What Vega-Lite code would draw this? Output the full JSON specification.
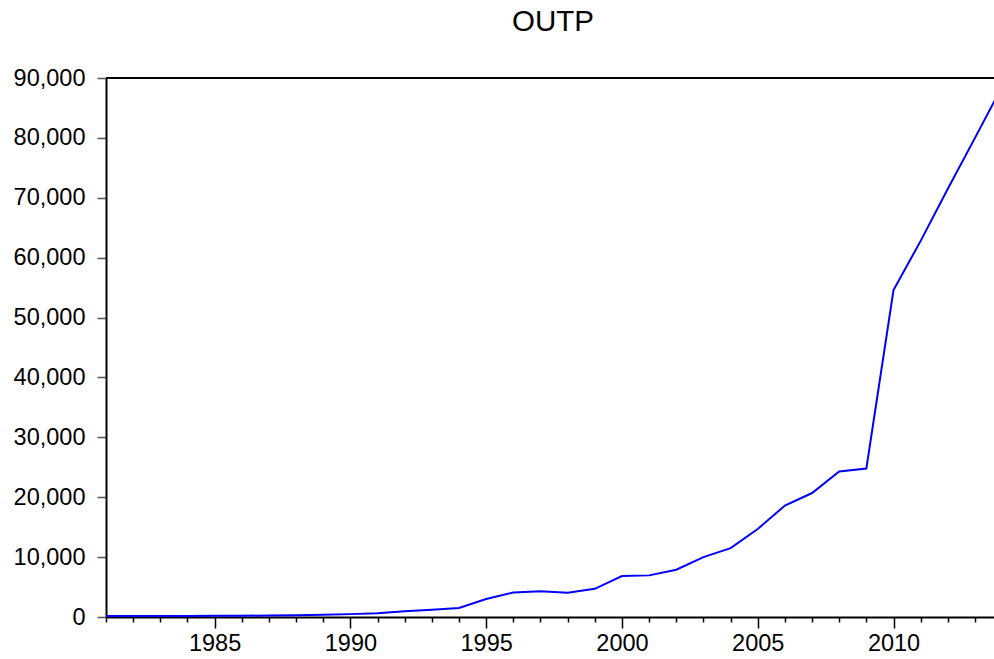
{
  "$schema": "https://vega.github.io/schema/vega-lite/v6.json",
  "autosize": {"type": "none"},
  "width": 888,
  "height": 539,
  "padding": {"left": 106, "top": 78, "right": 0, "bottom": 42},
  "background": "white",
  "view": {"stroke": null},
  "config": {
    "axis": {
      "labelFont": "Liberation Sans",
      "labelFontSize": 23.5,
      "labelColor": "black",
      "grid": false,
      "domainColor": "black",
      "domainWidth": 2,
      "tickWidth": 1.5,
      "labelFlush": false,
      "labelOverlap": false,
      "title": null
    },
    "axisX": {"tickColor": "black", "labelPadding": 3},
    "axisY": {"tickColor": "#555555", "tickSize": 9, "labelPadding": 12}
  },
  "title": {
    "text": "OUTP",
    "font": "Liberation Sans",
    "fontSize": 29.5,
    "fontWeight": "normal",
    "color": "black",
    "anchor": "middle",
    "frame": "group",
    "offset": 0,
    "dx": 3,
    "dy": -29
  },
  "data": {
    "values": [
      {"year": 1981, "OUTP": 150},
      {"year": 1982, "OUTP": 160},
      {"year": 1983, "OUTP": 170},
      {"year": 1984, "OUTP": 180},
      {"year": 1985, "OUTP": 190},
      {"year": 1986, "OUTP": 210},
      {"year": 1987, "OUTP": 250},
      {"year": 1988, "OUTP": 300},
      {"year": 1989, "OUTP": 380},
      {"year": 1990, "OUTP": 480},
      {"year": 1991, "OUTP": 620},
      {"year": 1992, "OUTP": 950},
      {"year": 1993, "OUTP": 1200},
      {"year": 1994, "OUTP": 1500},
      {"year": 1995, "OUTP": 3000},
      {"year": 1996, "OUTP": 4100},
      {"year": 1997, "OUTP": 4300},
      {"year": 1998, "OUTP": 4050},
      {"year": 1999, "OUTP": 4700},
      {"year": 2000, "OUTP": 6850},
      {"year": 2001, "OUTP": 6950},
      {"year": 2002, "OUTP": 7900},
      {"year": 2003, "OUTP": 10000},
      {"year": 2004, "OUTP": 11500},
      {"year": 2005, "OUTP": 14700},
      {"year": 2006, "OUTP": 18600},
      {"year": 2007, "OUTP": 20700},
      {"year": 2008, "OUTP": 24300},
      {"year": 2009, "OUTP": 24800},
      {"year": 2010, "OUTP": 54600},
      {"year": 2011, "OUTP": 62800},
      {"year": 2012, "OUTP": 71500},
      {"year": 2013, "OUTP": 80000},
      {"year": 2014, "OUTP": 88600}
    ]
  },
  "resolve": {"axis": {"y": "independent"}},
  "layer": [
    {
      "mark": {"type": "line", "color": "#0000FF", "strokeWidth": 2, "clip": true},
      "encoding": {
        "x": {
          "field": "year",
          "type": "quantitative",
          "scale": {"domain": [1981, 2013.7], "nice": false, "zero": false},
          "axis": {
            "values": [1981,1982,1983,1984,1985,1986,1987,1988,1989,1990,1991,1992,1993,1994,1995,1996,1997,1998,1999,2000,2001,2002,2003,2004,2005,2006,2007,2008,2009,2010,2011,2012,2013],
            "labelExpr": "datum.value % 5 === 0 ? datum.value + '' : ''",
            "tickSize": {"condition": {"test": "datum.value % 5 === 0", "value": 11}, "value": 5}
          }
        },
        "y": {
          "field": "OUTP",
          "type": "quantitative",
          "scale": {"domain": [0, 90000], "nice": false},
          "axis": {
            "values": [0,10000,20000,30000,40000,50000,60000,70000,80000,90000],
            "labelExpr": "format(datum.value, ',')"
          }
        }
      }
    },
    {
      "mark": {"type": "rule", "color": "black", "strokeWidth": 2},
      "encoding": {"y": {"datum": 90000, "type": "quantitative", "axis": null}}
    }
  ]
}
